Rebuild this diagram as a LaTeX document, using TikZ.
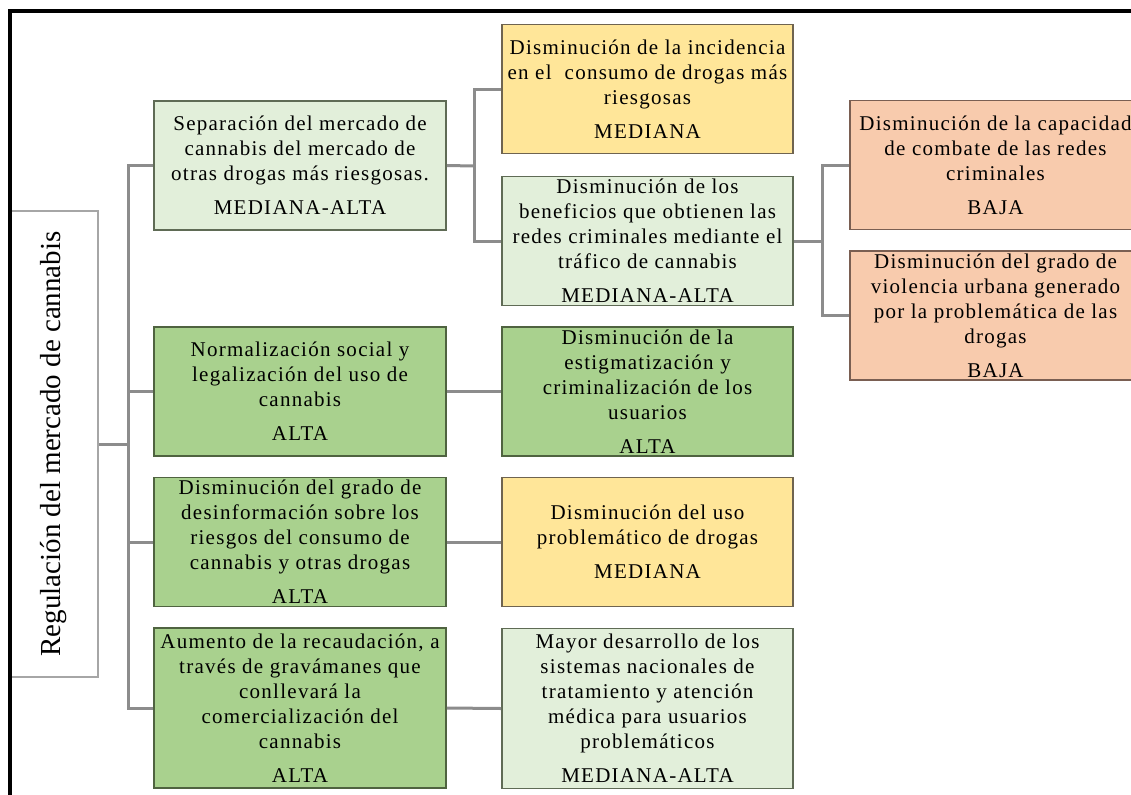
\documentclass[tikz,border=0pt]{standalone}
\usepackage{fontspec}
\setmainfont{Liberation Serif}[LetterSpace=6]
\newfontfamily\rootfont{Liberation Serif}
\definecolor{lgfill}{HTML}{E2EFDA}
\definecolor{lgdraw}{HTML}{5F6B55}
\definecolor{dgfill}{HTML}{A9D18E}
\definecolor{dgdraw}{HTML}{4F6340}
\definecolor{yefill}{HTML}{FFE699}
\definecolor{yedraw}{HTML}{6F6450}
\definecolor{safill}{HTML}{F8CBAD}
\definecolor{sadraw}{HTML}{7A5F52}
\definecolor{connc}{HTML}{8C8C8C}
\definecolor{rootdraw}{HTML}{A6A6A6}
\tikzset{
  box/.style={draw, line width=0.9pt, align=center, inner sep=0pt,
    font=\fontsize{10.5}{12.5}\selectfont},
  lone/.style={box, minimum width=146pt, minimum height=64.5pt},
  ltwo/.style={box, minimum width=145.5pt, minimum height=64.5pt},
  tall/.style={minimum height=80pt},
  lg/.style={fill=lgfill, draw=lgdraw},
  dg/.style={fill=dgfill, draw=dgdraw},
  ye/.style={fill=yefill, draw=yedraw},
  sa/.style={fill=safill, draw=sadraw},
  conn/.style={draw=connc, line width=1.5pt},
}
\begin{document}
\begin{tikzpicture}[x=0.5pt, y=-0.5pt]
\useasboundingbox (0,0) rectangle (1131,794);
\clip (0,0) rectangle (1131,794);
\fill[white] (0,0) rectangle (1131,794);

% root
\node[draw=rootdraw, fill=white, line width=1pt, minimum width=44pt, minimum height=233pt, inner sep=0pt] (root) at (54,444) {};
\node[rotate=90, font=\rootfont\fontsize{14.5}{17}\selectfont] (rootlabel) at (root.center) {Regulación del mercado de cannabis};

% level 1
\node[lone, lg] (A) at (300,165.5) {Separación del mercado de\\cannabis del mercado de\\otras drogas más riesgosas.\\[4.5pt]MEDIANA-ALTA};
\node[lone, dg] (B) at (300,391.5) {Normalización social y\\legalización del uso de\\cannabis\\[4.5pt]ALTA};
\node[lone, dg] (C) at (300,542) {Disminución del grado de\\desinformación sobre los\\riesgos del consumo de\\cannabis y otras drogas\\[4.5pt]ALTA};
\node[lone, dg, tall] (D) at (300,708) {Aumento de la recaudación, a\\través de gravámanes que\\conllevará la\\comercialización del\\cannabis\\[4.5pt]ALTA};

% level 2
\node[ltwo, ye] (E) at (647.5,89) {Disminución de la incidencia\\en el~ consumo de drogas más\\riesgosas\\[4.5pt]MEDIANA};
\node[ltwo, lg] (F) at (647.5,241) {Disminución de los\\beneficios que obtienen las\\redes criminales mediante el\\tráfico de cannabis\\[4.5pt]MEDIANA-ALTA};
\node[ltwo, dg] (G) at (647.5,391.5) {Disminución de la\\estigmatización y\\criminalización de los\\usuarios\\[4.5pt]ALTA};
\node[ltwo, ye] (H) at (647.5,542) {Disminución del uso\\problemático de drogas\\[4.5pt]MEDIANA};
\node[ltwo, lg, tall] (I) at (647.5,708.5) {Mayor desarrollo de los\\sistemas nacionales de\\tratamiento y atención\\médica para usuarios\\problemáticos\\[4.5pt]MEDIANA-ALTA};

% level 3
\node[ltwo, sa] (J) at (995.5,165) {Disminución de la capacidad\\de combate de las redes\\criminales\\[4.5pt]BAJA};
\node[ltwo, sa] (K) at (995.5,315.5) {Disminución del grado de\\violencia urbana generado\\por la problemática de las\\drogas\\[4.5pt]BAJA};

% connectors
\coordinate (tr) at (128,444);
\draw[conn] (root.east) -- (tr);
\draw[conn] (A.west) -| (tr) |- (D.west);
\draw[conn] (tr |- B.west) -- (B.west);
\draw[conn] (tr |- C.west) -- (C.west);

\coordinate (a2) at (474,166);
\draw[conn] (A.east) -- (a2);
\draw[conn] (E.west) -| (a2) |- (F.west);

\coordinate (f2) at (822,241);
\draw[conn] (F.east) -- (f2);
\draw[conn] (J.west) -| (f2) |- (K.west);

\draw[conn] (B.east) -- (G.west);
\draw[conn] (C.east) -- (H.west);
\draw[conn] (D.east) -- (I.west);

% frame
\draw[line width=2pt, black] (9.5,11) rectangle (1150,810);
\end{tikzpicture}
\end{document}
